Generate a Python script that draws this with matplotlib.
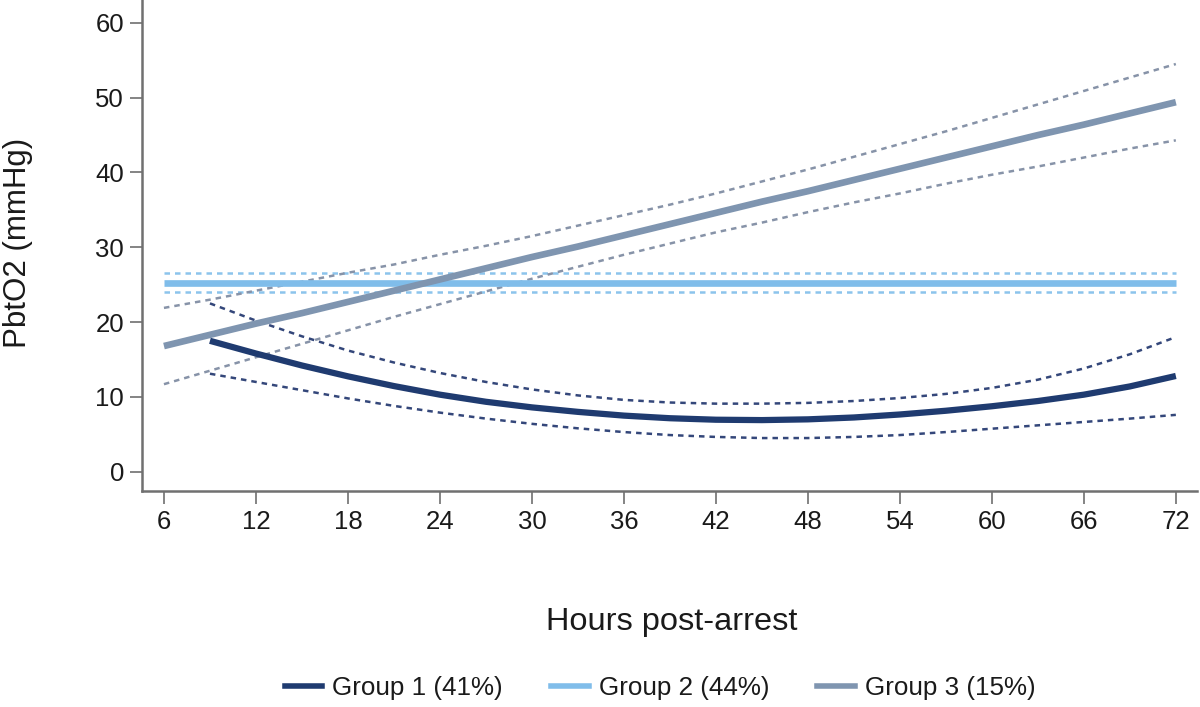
import matplotlib
matplotlib.use("Agg")
import matplotlib.pyplot as plt
from matplotlib.lines import Line2D

plt.rcParams['font.family'] = ['Liberation Sans', 'DejaVu Sans']

# ---- data ----
hours_g1 = [9, 12, 15, 18, 21, 24, 27, 30, 33, 36, 39, 42, 45, 48, 51, 54, 57, 60, 63, 66, 69, 72]
g1_mean = [17.5, 15.8, 14.2, 12.75, 11.45, 10.3, 9.35, 8.6, 8.0, 7.5, 7.15, 6.95, 6.9, 7.0, 7.25, 7.65, 8.15, 8.75, 9.45, 10.3, 11.4, 12.8]
g1_upper = [22.5, 20.2, 18.1, 16.2, 14.6, 13.2, 12.0, 11.0, 10.2, 9.6, 9.25, 9.1, 9.1, 9.2, 9.45, 9.85, 10.4, 11.2, 12.3, 13.8, 15.7, 18.0]
g1_lower = [13.1, 12.0, 10.9, 9.8, 8.8, 7.9, 7.1, 6.4, 5.8, 5.3, 4.9, 4.65, 4.5, 4.5, 4.65, 4.9, 5.3, 5.75, 6.2, 6.65, 7.1, 7.6]

hours_g2 = [6, 72]
g2_mean = [25.2, 25.2]
g2_upper = [26.5, 26.5]
g2_lower = [24.0, 24.0]

hours_g3 = [6, 9, 12, 15, 18, 21, 24, 27, 30, 33, 36, 39, 42, 45, 48, 51, 54, 57, 60, 63, 66, 69, 72]
g3_mean = [16.8, 18.3, 19.8, 21.2, 22.7, 24.2, 25.7, 27.2, 28.7, 30.1, 31.6, 33.1, 34.6, 36.1, 37.5, 39.0, 40.5, 42.0, 43.5, 45.0, 46.4, 47.9, 49.4]
g3_upper = [21.9, 23.0, 24.2, 25.4, 26.6, 27.7, 29.0, 30.2, 31.5, 32.9, 34.3, 35.7, 37.2, 38.8, 40.4, 42.1, 43.8, 45.5, 47.3, 49.1, 50.9, 52.7, 54.5]
g3_lower = [11.7, 13.5, 15.3, 17.1, 18.9, 20.7, 22.4, 24.1, 25.8, 27.4, 29.0, 30.5, 32.0, 33.3, 34.7, 36.0, 37.2, 38.5, 39.7, 40.8, 42.0, 43.2, 44.3]

labels = ["Group 1 (41%)", "Group 2 (44%)", "Group 3 (15%)"]
x_ticks = [6, 12, 18, 24, 30, 36, 42, 48, 54, 60, 66, 72]
y_ticks = [0, 10, 20, 30, 40, 50, 60]

# ---- styling ----
c1, c2, c3 = '#1f3b70', '#80bdea', '#7f95b0'
c1d, c2d, c3d = '#34477a', '#8cc4ec', '#8793a8'
axis_gray = '#707070'

fig = plt.figure(figsize=(12, 7.07), dpi=100)
ax = fig.add_axes([0.1183, 0.3055, 0.8792, 0.6945])

dash_kw = dict(lw=1.8, dashes=(2.2, 2.0))
ax.plot(hours_g2, g2_upper, color=c2d, **dash_kw)
ax.plot(hours_g2, g2_lower, color=c2d, **dash_kw)
ax.plot(hours_g3, g3_upper, color=c3d, **dash_kw)
ax.plot(hours_g3, g3_lower, color=c3d, **dash_kw)
ax.plot(hours_g1, g1_upper, color=c1d, **dash_kw)
ax.plot(hours_g1, g1_lower, color=c1d, **dash_kw)

ax.plot(hours_g2, g2_mean, color=c2, lw=4.8, solid_capstyle='butt')
ax.plot(hours_g3, g3_mean, color=c3, lw=4.8, solid_capstyle='butt')
ax.plot(hours_g1, g1_mean, color=c1, lw=4.5, solid_capstyle='butt')

ax.set_xlim(4.565, 73.38)
ax.set_ylim(-2.58, 63.06)
ax.set_xticks(x_ticks)
ax.set_yticks(y_ticks)

for s in ['top', 'right']:
    ax.spines[s].set_visible(False)
for s in ['left', 'bottom']:
    ax.spines[s].set_color(axis_gray)
    ax.spines[s].set_linewidth(1.8)

ax.tick_params(axis='both', direction='out', length=9, width=1.2, color=axis_gray,
               labelsize=18.5, labelcolor='#1a1a1a')
ax.tick_params(axis='y', pad=4)
ax.tick_params(axis='x', pad=5)

fig.text(18 / 1200, 1 - 243 / 707, "PbtO2 (mmHg)", rotation=90, ha='center', va='center',
         fontsize=22.5, color='#1a1a1a')
fig.text(672 / 1200, 1 - 622 / 707, "Hours post-arrest", ha='center', va='center',
         fontsize=23.4, color='#1a1a1a')

handles = [Line2D([], [], color=c, lw=4) for c in (c1, c2, c3)]
fig.legend(handles, labels, loc='center', bbox_to_anchor=(660 / 1200, 1 - 688 / 707),
           ncol=3, frameon=False, fontsize=18.7, handlelength=1.45, handletextpad=0.38,
           columnspacing=1.85, labelcolor='#1a1a1a')

fig.savefig("out.png", dpi=100)
